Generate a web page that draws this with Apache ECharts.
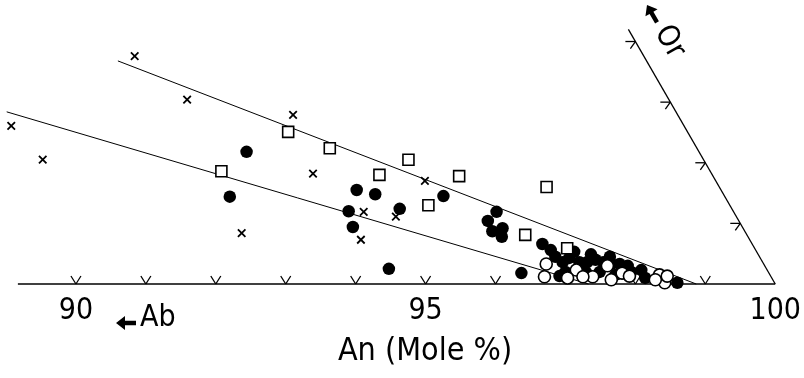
<!DOCTYPE html>
<html>
<head>
<meta charset="utf-8">
<script src="https://cdn.jsdelivr.net/npm/echarts@6/dist/echarts.min.js"></script>
<style>
  html, body { margin: 0; padding: 0; background: #fff; }
  #chart { width: 804px; height: 378px; }
</style>
</head>
<body>
<div id="chart"></div>
<script>
// Feldspar compositions near the An corner of the An–Ab–Or triangle.
// Every point is stored as [An mole %, Or mole %]; Ab is the remainder.

const anTickValues = [90, 91, 92, 93, 94, 95, 96, 97, 98, 99];
const orTickValues = [1, 2, 3, 4];
const anLabelValues = [90, 95, 100];

const crosses = [
  [88.96, 3.76], [90.07, 3.04], [87.77, 2.61], [88.50, 2.05], [91.71, 2.79],
  [92.48, 1.82], [91.95, 0.84], [94.14, 1.70], [93.52, 1.19], [94.02, 1.11],
  [93.71, 0.73]
];

const openSquares = [
  [91.15, 1.86], [91.78, 2.51], [92.51, 2.24], [93.73, 2.05], [93.44, 1.80],
  [94.59, 1.78], [94.39, 1.30], [95.93, 1.60], [96.02, 0.81], [96.73, 0.59]
];

const filledCircles = [
  [91.35, 2.18], [91.48, 1.44], [93.24, 1.55], [93.54, 1.48], [94.53, 1.45],
  [93.30, 1.20], [94.01, 1.24], [93.49, 0.94], [94.35, 0.25], [95.42, 1.19],
  [95.37, 1.04], [95.52, 0.87], [95.64, 0.92], [95.70, 0.78], [96.28, 0.18],
  [96.34, 0.66], [96.51, 0.56], [96.63, 0.45], [96.78, 0.36], [96.84, 0.43],
  [97.02, 0.36], [97.13, 0.36], [97.23, 0.40], [97.36, 0.36], [97.49, 0.33],
  [97.61, 0.33], [97.74, 0.30], [96.90, 0.20], [97.19, 0.20], [97.39, 0.20],
  [97.64, 0.15], [97.84, 0.20], [98.09, 0.10], [98.59, 0.02], [96.85, 0.13],
  [97.97, 0.23], [96.86, 0.53], [97.12, 0.49], [97.41, 0.45]
];

const openCircles = [
  [96.56, 0.33], [96.64, 0.12], [97.04, 0.23], [97.33, 0.12], [97.45, 0.30],
  [97.72, 0.18], [97.85, 0.13], [97.19, 0.12], [98.27, 0.15], [98.41, 0.02],
  [98.25, 0.07], [98.39, 0.13], [96.98, 0.10], [97.62, 0.07]
];

const upperTrend = [[88.76, 3.68], [98.87, 0]];
const lowerTrend = [[87.59, 2.84], [97.33, 0]];

const abEdge = [[89.17, 0], [100, 0]];
const orEdge = [[100, 0], [95.8, 4.2]];

// Equilateral ternary projection: x in An units, y scaled by sin 60°.
const H = Math.sqrt(3) / 2;
function tern(p) { return [p[0] + p[1] / 2, p[1] * H]; }

const FONT = "'DejaVu Sans Condensed', 'Liberation Sans Narrow', 'DejaVu Sans', sans-serif";
const INK = '#000';

const chart = echarts.init(document.getElementById('chart'), null, { renderer: 'canvas' });

function lineSeries(pts, width) {
  return {
    type: 'line', data: pts.map(tern), symbol: 'none', silent: true,
    lineStyle: { color: INK, width: width, opacity: 1 }, z: 1, clip: false
  };
}

function scatterSeries(pts, symbol, size, style, z) {
  style.opacity = 1;
  return {
    type: 'scatter', data: pts.map(tern), symbol: symbol, symbolSize: size,
    itemStyle: style, z: z, clip: false, silent: true
  };
}

// bold arrow pointing left with its tip at the local origin
const ARROW = [[0, 0], [9, -7], [9, -2.2], [20, -2.2], [20, 2.2], [9, 2.2], [9, 7]];

const option = {
  animation: false,
  backgroundColor: '#fff',
  grid: { left: 6, right: 14, top: 4, bottom: 94 },
  xAxis: {
    type: 'value', min: 89, max: 100.2, interval: 1,
    axisLine: { show: false }, axisTick: { show: false }, splitLine: { show: false },
    axisLabel: {
      show: true, margin: 12, showMaxLabel: false, showMinLabel: false,
      color: INK, fontFamily: FONT, fontSize: 30,
      formatter: function (v) { return anLabelValues.indexOf(v) >= 0 ? String(v) : ''; }
    }
  },
  yAxis: {
    type: 'value', min: 0, max: 4, show: false
  },
  series: [
    lineSeries(upperTrend, 1),
    lineSeries(lowerTrend, 1),
    lineSeries(abEdge, 1.6),
    lineSeries(orEdge, 1.3),
    {
      // V-shaped ticks on the An–Ab edge
      type: 'custom', silent: true, z: 2,
      data: anTickValues.map(function (a) { return [a, 0]; }),
      renderItem: function (params, api) {
        const p = api.coord(tern([api.value(0), api.value(1)]));
        const st = { stroke: INK, lineWidth: 1.3 };
        return {
          type: 'group', children: [
            { type: 'line', shape: { x1: p[0], y1: p[1], x2: p[0] - 5, y2: p[1] - 8 }, style: st },
            { type: 'line', shape: { x1: p[0], y1: p[1], x2: p[0] + 5, y2: p[1] - 8 }, style: st }
          ]
        };
      }
    },
    {
      // ticks on the An–Or edge
      type: 'custom', silent: true, z: 2,
      data: orTickValues.map(function (o) { return [100 - o, o]; }),
      renderItem: function (params, api) {
        const p = api.coord(tern([api.value(0), api.value(1)]));
        const st = { stroke: INK, lineWidth: 1.3 };
        return {
          type: 'group', children: [
            { type: 'line', shape: { x1: p[0], y1: p[1], x2: p[0] - 10, y2: p[1] }, style: st },
            { type: 'line', shape: { x1: p[0], y1: p[1], x2: p[0] - 5, y2: p[1] + 7 }, style: st }
          ]
        };
      }
    },
    scatterSeries(filledCircles, 'circle', 12.5, { color: INK }, 3),
    scatterSeries(openCircles, 'circle', 12, { color: '#fff', borderColor: INK, borderWidth: 1.6 }, 4),
    scatterSeries(openSquares, 'rect', 11, { color: '#fff', borderColor: INK, borderWidth: 1.6 }, 5),
    scatterSeries(crosses, 'path://M0,0L10,10M10,0L0,10', 7.5,
      { color: 'none', borderColor: INK, borderWidth: 1.8 }, 6)
  ],
  graphic: [
    // Ab direction arrow and label
    { type: 'polygon', silent: true, x: 116, y: 323, shape: { points: ARROW }, style: { fill: INK } },
    { type: 'text', silent: true, x: 140, y: 318, style: { text: 'Ab', font: '30px ' + FONT, fill: INK, verticalAlign: 'middle', align: 'left' } },
    // axis title
    { type: 'text', silent: true, x: 425, y: 352, style: { text: 'An (Mole %)', font: '32px ' + FONT, fill: INK, verticalAlign: 'middle', align: 'center' } },
    // Or direction arrow and label, rotated along the An–Or edge
    {
      type: 'group', silent: true, x: 647, y: 5, rotation: -Math.PI / 3,
      children: [
        { type: 'polygon', shape: { points: ARROW }, style: { fill: INK } },
        { type: 'text', x: 27, y: -1, style: { text: 'Or', font: '30px ' + FONT, fill: INK, verticalAlign: 'middle', align: 'left' } }
      ]
    }
  ]
};

chart.setOption(option);
</script>
</body>
</html>
